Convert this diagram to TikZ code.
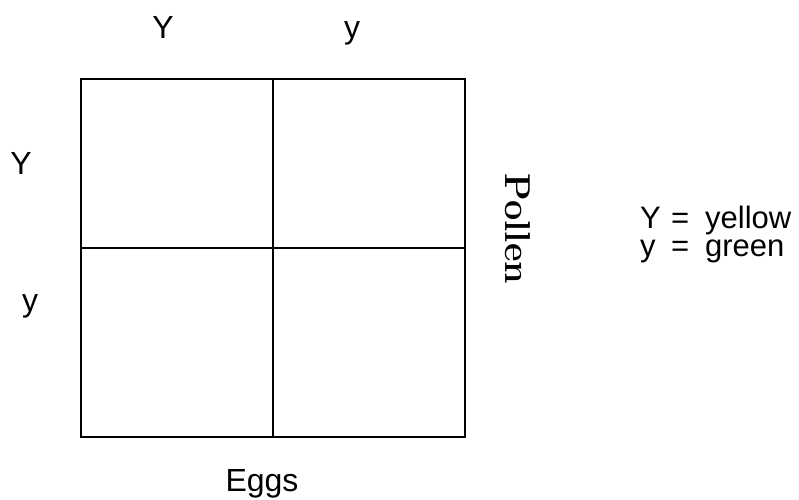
\documentclass[tikz,border=0pt]{standalone}
\usepackage{fontspec}
\setmainfont{Liberation Sans}
\usetikzlibrary{positioning}

\begin{document}
\begin{tikzpicture}[
  x=1pt, y=-1pt,
  lbl/.style={font=\fontsize{32}{36}\selectfont, inner sep=0pt, anchor=base},
  legend/.style={lbl, font=\fontsize{31}{34}\selectfont, anchor=base west},
  pollenlbl/.style={font=\fontsize{36}{40}\fontspec{Latin Modern Roman}\bfseries,
                    rotate=-90, inner sep=0pt},
  gridline/.style={line width=2pt, black},
]
\useasboundingbox (0,0) rectangle (799,499);

% punnett square
\coordinate (tl) at (81,79);
\coordinate (br) at (465,437);
\coordinate (mid) at (273,248);
\draw[gridline] (tl) rectangle (br);
\draw[gridline] (tl -| mid) -- (br -| mid);
\draw[gridline] (tl |- mid) -- (br |- mid);

% alleles
\node[lbl] (topY) at (163,38) {Y};
\node[lbl] (topy) at (352,38) {y};
\node[lbl] (leftY) at (21,174) {Y};
\node[lbl] (lefty) at (30,311) {y};

\node[lbl] (eggs) at (262,491) {Eggs};
\node[pollenlbl] (pollen) at (518,229) {Pollen};

% key
\node[legend] (keyY) at (640,228)
  {\makebox[31pt][l]{Y}\makebox[34pt][l]{=}yellow};
\node[legend] (keyy) at (640,256)
  {\makebox[31pt][l]{y}\makebox[34pt][l]{=}green};
\end{tikzpicture}
\end{document}
